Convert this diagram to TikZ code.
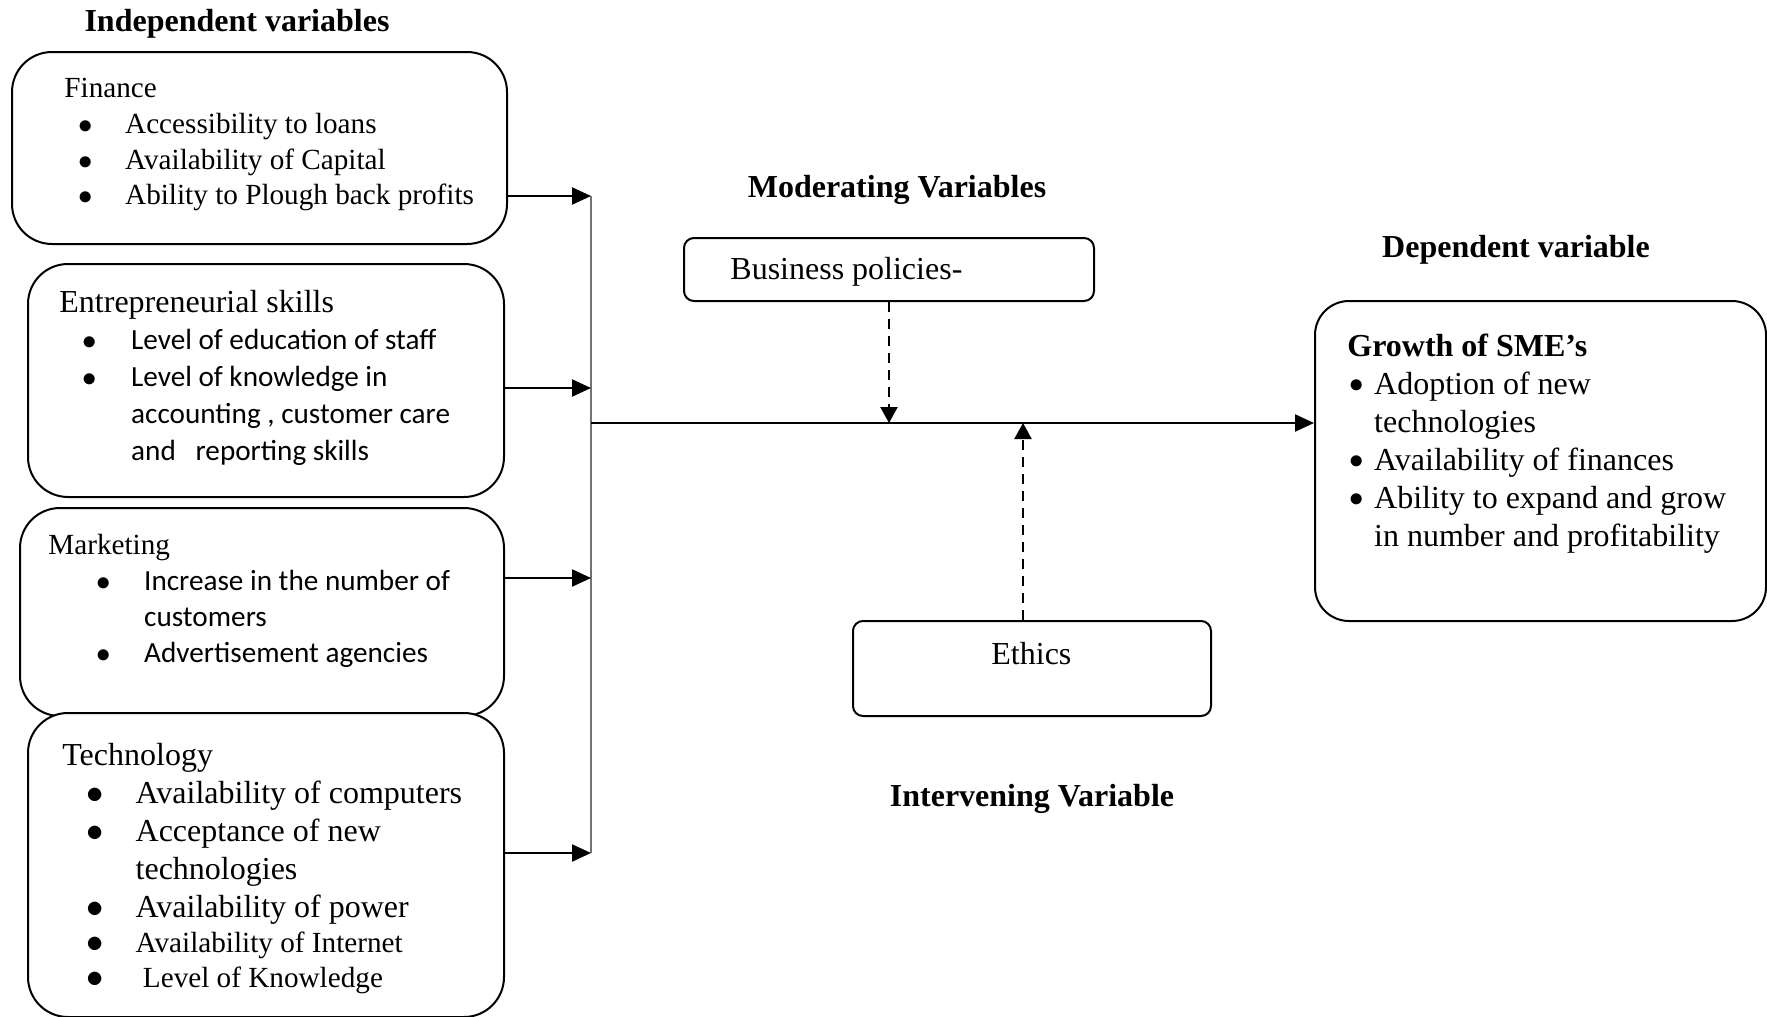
\documentclass[tikz,border=0pt]{standalone}
\usepackage{fontspec}
\setmainfont{Liberation Serif}
\newfontfamily\calibri{Carlito}
\usepackage{array}
\usetikzlibrary{arrows,arrows.meta,positioning,calc}

\newcommand{\bul}{$\bullet$}
\newcommand{\sbul}{\raisebox{0.9pt}{\fontsize{13.5}{13.5}\selectfont$\bullet$}}

\begin{document}
\begin{tikzpicture}[
			x=0.5pt, y=-0.5pt,
			varbox/.style  = {draw, line width=1pt, fill=white, rectangle, rounded corners=20pt, inner sep=0pt, anchor=north west},
			smallbox/.style = {varbox, rounded corners=5pt},
			heading/.style = {font=\fontsize{16}{19}\selectfont\bfseries, inner sep=0pt},
			listtext/.style = {anchor=base west, inner sep=0pt},
			busline/.style = {draw=black!55, line width=0.8pt},
			link/.style = {-{Triangle[length=9.5pt, width=8.5pt]}, line width=1.15pt},
			moder/.style = {-{Triangle[length=8pt, width=8.5pt]}, line width=1.15pt, dash pattern=on 5pt off 3.5pt},
			>=latex]
			\useasboundingbox (0,0) rectangle (1767,1017);
			
			% titles of the four groups of variables
			\node[heading] (indep) at (237,23.5) {Independent variables};
			\node[heading] (modtitle) at (897,189.5) {Moderating Variables};
			\node[heading] (deptitle) at (1516,249.5) {Dependent variable};
			\node[heading] (intertitle) at (1032,798.5) {Intervening Variable};
			
			% independent variables, boxes and their lists
			\node[varbox, minimum width=247.5pt, minimum height=96pt] (fin) at (11,51) {};
			\node[listtext, font=\fontsize{14.6}{18}\selectfont] (fintxt) at (64,97) {%
				\begin{tabular}[t]{@{\hspace{6.85pt}}l@{\hspace{16.35pt}}l@{}}
					\multicolumn{2}{@{}l@{}}{Finance}\\
					\bul & Accessibility to loans\\
					\bul & Availability of Capital\\
					\bul & Ability to Plough back profits
				\end{tabular}};
			
			\node[varbox, minimum width=238pt, minimum height=116.5pt] (ent) at (27,263) {};
			\node[listtext, font=\calibri\fontsize{14.6}{18.5}\selectfont] (enttxt) at (59,312) {%
				\begin{tabular}[t]{@{\hspace{11.35pt}}l@{\hspace{17.35pt}}l@{}}
					\multicolumn{2}{@{}l@{}}{\rmfamily\fontsize{16}{18.5}\selectfont Entrepreneurial skills}\\
					\bul & Level of education of staff\\
					\bul & Level of knowledge in\\
					& accounting , customer care\\
					& and\ \ \ reporting skills
				\end{tabular}};
			
			\node[varbox, minimum width=242pt, minimum height=104pt] (mkt) at (19,507) {};
			\node[listtext, font=\calibri\fontsize{14.6}{18}\selectfont] (mkttxt) at (48,554) {%
				\begin{tabular}[t]{@{\hspace{23.85pt}}l@{\hspace{16.85pt}}l@{}}
					\multicolumn{2}{@{}l@{}}{\rmfamily Marketing}\\
					\bul & Increase in the number of\\
					& customers\\
					\bul & Advertisement agencies
				\end{tabular}};
			
			\node[varbox, minimum width=238pt, minimum height=152pt] (tec) at (27,712) {};
			\node[listtext, font=\fontsize{16}{19}\selectfont] (tectxt) at (62,765) {%
				\begin{tabular}[t]{@{\hspace{12pt}}l@{\hspace{16pt}}l@{}}
					\multicolumn{2}{@{}l@{}}{Technology}\\
					\bul & Availability of computers\\
					\bul & Acceptance of new\\
					& technologies\\
					\bul & Availability of power\\[-1.5pt]
					\bul & \fontsize{14.6}{18}\selectfont Availability of Internet\\[-1.5pt]
					\bul & \fontsize{14.6}{18}\selectfont\ Level of Knowledge
				\end{tabular}};
			
			% moderating and intervening variables
			\node[smallbox, minimum width=205pt, minimum height=31.5pt] (bus) at (683,237) {};
			\node[listtext, font=\fontsize{16}{19}\selectfont] (bustxt) at (730,279) {Business policies-};
			
			\node[smallbox, minimum width=179pt, minimum height=47.5pt] (eth) at (852,620) {};
			\node[listtext, font=\fontsize{16}{19}\selectfont] (ethtxt) at (991,664) {Ethics};
			
			% dependent variable
			\node[varbox, rounded corners=17pt, minimum width=225.5pt, minimum height=160pt] (sme) at (1314,300) {};
			\node[listtext, font=\fontsize{16}{19}\selectfont] (smetxt) at (1347,356) {%
				\begin{tabular}[t]{@{\hspace{1pt}}l@{\hspace{5.2pt}}l@{}}
					\multicolumn{2}{@{}l@{}}{\bfseries Growth of SME’s}\\
					\sbul & Adoption of new\\
					& technologies\\
					\sbul & Availability of finances\\
					\sbul & Ability to expand and grow\\
					& in number and profitability
				\end{tabular}};
			
			% points on the collecting line
			\coordinate (b1) at (591,196);
			\coordinate (b2) at (591,388);
			\coordinate (b3) at (591,578);
			\coordinate (b4) at (591,853);
			\coordinate (hub) at (591,423);
			
			\draw[busline] (b1) -- (b4);
			
			% lines from each independent variable to the collecting line
			\foreach \src/\tgt in {fin/b1, ent/b2, mkt/b3, tec/b4}
			\draw[link] (\src.east |- \tgt) -- (\tgt);
			
			\draw[link] (hub) -- (hub -| sme.west);
			
			% dashed arrows onto the main line
			\draw[moder] (bus.south) -- (bus.south |- hub);
			\draw[moder] ([xshift=-4.5pt]eth.north) -- ([xshift=-4.5pt]eth.north |- hub);
		\end{tikzpicture}
\end{document}
